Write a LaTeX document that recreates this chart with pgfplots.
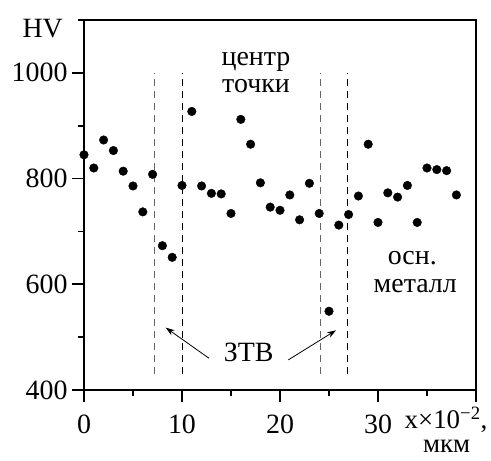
\documentclass[border=0pt]{standalone}
\usepackage{fontspec}
\setmainfont{Liberation Serif}
\newfontfamily\tnr{Liberation Serif}
\usepackage{pgfplots}
\pgfplotsset{compat=1.18}
\usetikzlibrary{arrows.meta}
\begin{document}
\begin{tikzpicture}[font=\tnr\fontsize{28}{32}\selectfont]
\begin{axis}[name=ax,
  scale only axis, width=392bp, height=370bp,
  xmin=0, xmax=40, ymin=400, ymax=1100,
  xtick={0,10,20,30,40}, xticklabels={0,10,20,30,},
  minor xtick={5,15,25,35},
  ytick={400,600,800,1000}, yticklabels={400,600,800,1000},
  minor ytick={500,700,900,1100},
  xtick pos=bottom, ytick pos=left,
  tick align=outside, major tick length=12bp, minor tick length=6bp,
  every tick/.style={line width=1.6bp, black},
  axis line style={line width=1.8bp},
  /pgf/number format/assume math mode=true,
  ticklabel style={font=\tnr\fontsize{28}{32}\selectfont},
  xticklabel style={yshift=-9bp},
  yticklabel style={xshift=-1bp},
  clip=false,
]
\addplot[only marks, mark=*, mark size=4.3bp, black] table {
x y
0 845
1 820
2 873
3 853
4 814
5 786
6 737
7 808
8 673
9 651
10 787
11 927
12 786
13 772
14 771
15 734
16 912
17 865
18 792
19 746
20 740
21 769
22 722
23 791
24 734
25 549
26 712
27 732
28 767
29 865
30 717
31 773
32 765
33 787
34 717
35 820
36 817
37 815
38 769
};
\addplot[gray!80!black, line width=1bp, dash pattern=on 7bp off 5bp] coordinates {(7.2,430) (7.2,1000)};
\addplot[black, line width=1bp, dash pattern=on 7bp off 5bp] coordinates {(10,430) (10,1000)};
\addplot[gray!80!black, line width=1bp, dash pattern=on 7bp off 5bp] coordinates {(24.15,430) (24.15,1000)};
\addplot[black, line width=1bp, dash pattern=on 7bp off 5bp] coordinates {(26.9,430) (26.9,1000)};
\draw[line width=0.8bp, -{Stealth[length=9bp,width=6bp]}] (axis cs:12.76,460) -- (axis cs:8.34,518);
\draw[line width=0.8bp, -{Stealth[length=9bp,width=6bp]}] (axis cs:20.85,457) -- (axis cs:25.72,513);
\node[anchor=base] at (axis cs:16.8,453) {ЗТВ};
\node[anchor=base] at (axis cs:17.55,1013) {центр};
\node[anchor=base] at (axis cs:17.55,962) {точки};
\node[anchor=base] at (axis cs:33.5,637) {осн.};
\node[anchor=base] at (axis cs:33.8,584) {металл};
\node[anchor=base east, inner sep=0pt] at (axis cs:-2.14,1066) {HV};
\node[anchor=base west, inner sep=0pt, font=\tnr\fontsize{27}{30}\selectfont] at (axis cs:32.7,328) {x×10\textsuperscript{−2},};
\node[anchor=base, inner sep=0pt, font=\tnr\fontsize{27}{30}\selectfont] at (axis cs:37.0,281) {мкм};
\end{axis}
\pgfresetboundingbox
\path ([shift={(-84bp,-71bp)}]ax.south west) rectangle ++(491bp,461bp);
\end{tikzpicture}
\end{document}
